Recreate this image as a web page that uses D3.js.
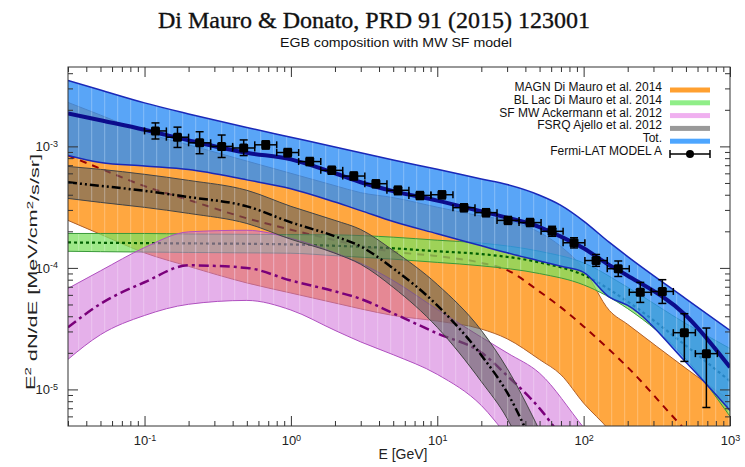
<!DOCTYPE html>
<html>
<head>
<meta charset="utf-8">
<script src="https://cdn.jsdelivr.net/npm/d3@7/dist/d3.min.js"></script>
<style>
  html, body { margin: 0; padding: 0; background: #fff; }
  svg { display: block; }
</style>
</head>
<body>
<svg id="chart" width="745" height="467"></svg>
<script>
// Energies in GeV, fluxes as E^2 dN/dE in MeV/cm^2/s/sr

const xDomain = [0.03, 1000];
const yDomain = [5e-6, 4.5e-3];
const xMajorTicks = [0.1, 1, 10, 100, 1000];
const yMajorTicks = [1e-5, 1e-4, 1e-3];

// MAGN (Di Mauro et al. 2014)
const magnEnergy = [0.03, 0.05, 0.1, 0.2, 0.5, 1, 2, 3, 5, 10, 20, 30, 50, 70, 100, 150, 200, 500, 1000];
const magnUpper  = [2.30e-3, 1.81e-3, 1.30e-3, 1.03e-3, 7.57e-4, 6.0e-4, 4.75e-4, 4.16e-4, 3.79e-4, 3.16e-4, 2.67e-4, 2.46e-4, 1.96e-4, 1.50e-4, 9.8e-5, 4.46e-5, 3.43e-5, 1.49e-5, 8.13e-6];
const magnMid    = [8.43e-4, 6.56e-4, 4.71e-4, 3.62e-4, 2.56e-4, 2.06e-4, 1.69e-4, 1.51e-4, 1.36e-4, 1.25e-4, 1.10e-4, 9.59e-5, 6.38e-5, 4.73e-5, 3.3e-5, 2.12e-5, 1.52e-5, 4.6e-6, 2.07e-6];
const magnLower  = [2.46e-4, 1.89e-4, 1.33e-4, 1.03e-4, 7.52e-5, 6.21e-5, 5.14e-5, 4.6e-5, 4.06e-5, 3.65e-5, 3.14e-5, 2.61e-5, 1.76e-5, 1.32e-5, 7.71e-6, 4.6e-6, 2.88e-6, 6e-7, 2e-7];

// BL Lac (Di Mauro et al. 2014)
const bllacEnergy = [0.03, 0.05, 0.1, 0.2, 0.5, 1, 2, 5, 10, 20, 50, 100, 200, 500, 1000];
const bllacUpper  = [1.92e-4, 1.92e-4, 1.92e-4, 1.90e-4, 1.89e-4, 1.88e-4, 1.87e-4, 1.79e-4, 1.69e-4, 1.60e-4, 1.37e-4, 1.10e-4, 6.92e-5, 3.48e-5, 2.17e-5];
const bllacMid    = [1.62e-4, 1.61e-4, 1.60e-4, 1.59e-4, 1.58e-4, 1.56e-4, 1.52e-4, 1.45e-4, 1.37e-4, 1.30e-4, 1.11e-4, 8.73e-5, 5.28e-5, 2.29e-5, 1.17e-5];
const bllacLower  = [1.37e-4, 1.36e-4, 1.35e-4, 1.34e-4, 1.33e-4, 1.32e-4, 1.26e-4, 1.18e-4, 1.11e-4, 1.04e-4, 8.98e-5, 7.25e-5, 4.62e-5, 1.78e-5, 6.0e-6];

// Star-forming MW (Ackermann et al. 2012)
const sfEnergy = [0.03, 0.05, 0.1, 0.2, 0.5, 1, 2, 3, 5, 10, 20, 30, 50, 100, 200];
const sfUpper  = [6.78e-5, 9.46e-5, 1.47e-4, 1.98e-4, 2.04e-4, 1.75e-4, 1.33e-4, 1.09e-4, 7.86e-5, 4.55e-5, 2.69e-5, 2.0e-5, 1.36e-5, 4.86e-6, 1.78e-6];
const sfMid    = [3.24e-5, 5.06e-5, 7.62e-5, 1.05e-4, 1.0e-4, 7.87e-5, 6.41e-5, 5.56e-5, 4.23e-5, 2.89e-5, 2.01e-5, 1.3e-5, 6.98e-6, 2.15e-6, 6e-7];
const sfLower  = [1.77e-5, 2.82e-5, 4.06e-5, 5.02e-5, 5.4e-5, 4.5e-5, 3.06e-5, 2.46e-5, 1.93e-5, 1.33e-5, 7.38e-6, 4.18e-6, 2.15e-6, 5e-7, 1.5e-7];

// FSRQ (Ajello et al. 2012)
const fsrqEnergy = [0.03, 0.05, 0.1, 0.2, 0.5, 1, 2, 3, 5, 10, 20, 30, 50];
const fsrqUpper  = [6.84e-4, 6.47e-4, 5.89e-4, 5.25e-4, 4.35e-4, 3.21e-4, 2.46e-4, 2.07e-4, 1.39e-4, 7.31e-5, 3.06e-5, 1.49e-5, 4.6e-6];
const fsrqMid    = [5.06e-4, 4.73e-4, 4.31e-4, 3.83e-4, 3.21e-4, 2.37e-4, 1.82e-4, 1.50e-4, 9.91e-5, 4.91e-5, 1.91e-5, 9.44e-6, 2.61e-6];
const fsrqLower  = [3.73e-4, 3.46e-4, 3.15e-4, 2.81e-4, 2.32e-4, 1.72e-4, 1.32e-4, 1.07e-4, 6.92e-5, 3.24e-5, 1.16e-5, 5.77e-6, 1.48e-6];

// Total
const totEnergy = [0.03, 0.05, 0.1, 0.2, 0.5, 1, 2, 3, 5, 10, 20, 30, 50, 70, 100, 150, 200, 500, 1000];
const totUpper  = [3.49e-3, 2.91e-3, 2.28e-3, 1.85e-3, 1.43e-3, 1.19e-3, 9.9e-4, 8.86e-4, 7.74e-4, 6.47e-4, 5.39e-4, 4.85e-4, 3.96e-4, 3.27e-4, 2.43e-4, 1.62e-4, 1.24e-4, 5.57e-5, 3.06e-5];
const totMid    = [1.87e-3, 1.64e-3, 1.37e-3, 1.12e-3, 8.85e-4, 7.82e-4, 6.01e-4, 5.07e-4, 4.28e-4, 3.58e-4, 2.92e-4, 2.59e-4, 2.17e-4, 1.81e-4, 1.45e-4, 1.05e-4, 8.63e-5, 4.06e-5, 1.52e-5];
const totLower  = [8.43e-4, 7.38e-4, 6.9e-4, 6.45e-4, 5.3e-4, 4.48e-4, 3.48e-4, 2.96e-4, 2.41e-4, 1.91e-4, 1.52e-4, 1.33e-4, 1.14e-4, 1.03e-4, 9.18e-5, 5.74e-5, 4.91e-5, 1.67e-5, 6.71e-6];

// Fermi-LAT EGB, foreground model A
const fermiBinEdges = [0.1, 0.141, 0.2, 0.283, 0.4, 0.566, 0.8, 1.13, 1.6, 2.26, 3.2, 4.53, 6.4, 9.05,
  12.8, 18.1, 25.6, 36.2, 51.2, 72.4, 102, 145, 205, 290, 410, 580, 820];
const fermiFlux = [1.34e-3, 1.19e-3, 1.07e-3, 1.0e-3, 9.7e-4, 1.03e-3, 8.9e-4, 7.5e-4, 6.35e-4, 5.7e-4,
  4.93e-4, 4.35e-4, 3.95e-4, 4.0e-4, 3.13e-4, 2.85e-4, 2.46e-4, 2.36e-4, 2.0e-4, 1.61e-4,
  1.15e-4, 9.85e-5, 6.3e-5, 6.4e-5, 2.93e-5, 1.97e-5];
const fermiHigh = [1.56e-3, 1.44e-3, 1.32e-3, 1.24e-3, 1.13e-3, 1.11e-3, 9.6e-4, 8.1e-4, 6.85e-4, 6.15e-4,
  5.3e-4, 4.7e-4, 4.25e-4, 4.3e-4, 3.37e-4, 3.07e-4, 2.65e-4, 2.55e-4, 2.2e-4, 1.77e-4,
  1.29e-4, 1.14e-4, 7.6e-5, 8.0e-5, 4.2e-5, 3.2e-5];
const fermiLow = [1.15e-3, 9.8e-4, 8.7e-4, 8.1e-4, 8.4e-4, 9.5e-4, 8.2e-4, 6.95e-4, 5.9e-4, 5.3e-4,
  4.57e-4, 4.0e-4, 3.65e-4, 3.7e-4, 2.9e-4, 2.64e-4, 2.28e-4, 2.19e-4, 1.82e-4, 1.46e-4,
  1.03e-4, 8.5e-5, 5.2e-5, 5.1e-5, 1.7e-5, 7.1e-6];

const legendLabels = ["MAGN Di Mauro et al. 2014", "BL Lac Di Mauro et al. 2014",
  "SF MW Ackermann et al. 2012", "FSRQ Ajello et al. 2012", "Tot.", "Fermi-LAT MODEL A"];

// ---------------------------------------------------------------------------
const svg = d3.select("#chart");
const X0 = 68, X1 = 730, Y0 = 67, Y1 = 426;
const x = d3.scaleLog().domain(xDomain).range([X0, X1]);
const y = d3.scaleLog().domain(yDomain).range([Y1, Y0]);
const SANS = "'Liberation Sans', Arial, Helvetica, sans-serif";

const defs = svg.append("defs");
defs.append("clipPath").attr("id", "plotClip")
  .append("rect").attr("x", X0).attr("y", Y0).attr("width", X1 - X0).attr("height", Y1 - Y0);
// faint vertical seams seen across the shaded bands
const seams = defs.append("pattern").attr("id", "seams")
  .attr("patternUnits", "userSpaceOnUse").attr("width", 13).attr("height", 10);
seams.append("rect").attr("x", 0).attr("y", 0).attr("width", 1.2).attr("height", 10)
  .attr("fill", "#fff").attr("fill-opacity", 0.22);

// titles
svg.append("text").attr("x", 374).attr("y", 28).attr("text-anchor", "middle")
  .attr("font-family", "'Liberation Serif', 'Times New Roman', serif").attr("font-size", 24)
  .attr("fill", "#111").attr("stroke", "#111").attr("stroke-width", 0.35)
  .text("Di Mauro & Donato, PRD 91 (2015) 123001");
svg.append("text").attr("x", 396).attr("y", 47).attr("text-anchor", "middle")
  .attr("font-family", SANS).attr("font-size", 13).attr("fill", "#111")
  .attr("textLength", 232).attr("lengthAdjust", "spacingAndGlyphs")
  .text("EGB composition with MW SF model");

const plot = svg.append("g").attr("clip-path", "url(#plotClip)");

function drawBand(E, lo, mid, hi, st) {
  const pts = E.map((e, i) => ({ e, lo: lo[i], mid: mid[i], hi: hi[i] }));
  const area = d3.area().x(d => x(d.e)).y0(d => y(d.lo)).y1(d => y(d.hi)).curve(d3.curveMonotoneX);
  const line = k => d3.line().x(d => x(d.e)).y(d => y(d[k])).curve(d3.curveMonotoneX)(pts);
  plot.append("path").attr("d", area(pts)).attr("fill", st.fill).attr("fill-opacity", st.opacity);
  plot.append("path").attr("d", area(pts)).attr("fill", "url(#seams)");
  ["lo", "hi"].forEach(k => plot.append("path").attr("d", line(k)).attr("fill", "none")
    .attr("stroke", st.edge).attr("stroke-width", st.edgeWidth));
  plot.append("path").attr("d", line("mid")).attr("fill", "none")
    .attr("stroke", st.line).attr("stroke-width", st.lineWidth)
    .attr("stroke-dasharray", st.dash || null);
}

drawBand(magnEnergy, magnLower, magnMid, magnUpper,
  { fill: "#ffa030", opacity: 0.92, edge: "#b0602a", edgeWidth: 1, line: "#9a0000", lineWidth: 2, dash: "7,6" });
drawBand(bllacEnergy, bllacLower, bllacMid, bllacUpper,
  { fill: "#7ee060", opacity: 0.75, edge: "#3a9a3a", edgeWidth: 1, line: "#006000", lineWidth: 2.2, dash: "3,3" });
drawBand(sfEnergy, sfLower, sfMid, sfUpper,
  { fill: "#d070d8", opacity: 0.55, edge: "#b050c0", edgeWidth: 1, line: "#7a007a", lineWidth: 2.5, dash: "10,4,3,4" });
drawBand(fsrqEnergy, fsrqLower, fsrqMid, fsrqUpper,
  { fill: "#606060", opacity: 0.6, edge: "#444", edgeWidth: 1, line: "#000", lineWidth: 2.5, dash: "9,3,2,3,2,3" });
drawBand(totEnergy, totLower, totMid, totUpper,
  { fill: "#2f8ff5", opacity: 0.8, edge: "#1a28b8", edgeWidth: 1.5, line: "#0c0c8c", lineWidth: 4 });

// Fermi-LAT points with error bars
const fermi = fermiFlux.map((v, i) => ({
  lo: fermiBinEdges[i], hi: fermiBinEdges[i + 1],
  e: Math.sqrt(fermiBinEdges[i] * fermiBinEdges[i + 1]),
  v, vHi: fermiHigh[i], vLo: fermiLow[i]
}));
const pg = svg.append("g").attr("stroke", "#000").attr("stroke-width", 1.5);
fermi.forEach(d => {
  const cx = x(d.e), cy = y(d.v);
  const xl = x(d.lo), xr = x(d.hi), yt = y(d.vHi), yb = y(d.vLo);
  pg.append("line").attr("x1", xl).attr("x2", xr).attr("y1", cy).attr("y2", cy);
  pg.append("line").attr("x1", xl).attr("x2", xl).attr("y1", cy - 3.5).attr("y2", cy + 3.5);
  pg.append("line").attr("x1", xr).attr("x2", xr).attr("y1", cy - 3.5).attr("y2", cy + 3.5);
  pg.append("line").attr("x1", cx).attr("x2", cx).attr("y1", yt).attr("y2", yb);
  pg.append("line").attr("x1", cx - 4).attr("x2", cx + 4).attr("y1", yt).attr("y2", yt);
  pg.append("line").attr("x1", cx - 4).attr("x2", cx + 4).attr("y1", yb).attr("y2", yb);
  pg.append("rect").attr("x", cx - 4.5).attr("y", cy - 4.5).attr("width", 9).attr("height", 9)
    .attr("rx", 1.5).attr("fill", "#000").attr("stroke", "none");
});

// ---------------------------------------------------------------------------
// axes: ticks on all four sides, pointing inward
function minorTicks(domain) {
  const out = [];
  for (let p = Math.floor(Math.log10(domain[0])); p <= Math.ceil(Math.log10(domain[1])); p++) {
    for (let m = 2; m <= 9; m++) {
      const v = m * Math.pow(10, p);
      if (v >= domain[0] && v <= domain[1]) out.push(v);
    }
  }
  return out;
}
const xMinor = minorTicks(xDomain), yMinor = minorTicks(yDomain);

function powLabel(sel) {
  sel.each(function (d) {
    const t = d3.select(this);
    t.text(null);
    t.append("tspan").text("10");
    t.append("tspan").attr("dy", "-0.5em").attr("font-size", "9px")
      .text(String(Math.round(Math.log10(d))));
  });
}
function styleAxis(g) {
  g.select(".domain").remove();
  g.attr("color", "#333").attr("font-family", SANS).attr("font-size", 13);
  g.selectAll(".tick text").attr("fill", "#222");
}

const gB = svg.append("g").attr("transform", `translate(0,${Y1})`)
  .call(d3.axisBottom(x).tickValues(xMajorTicks).tickSizeInner(-10).tickSizeOuter(0).tickPadding(10));
styleAxis(gB); gB.selectAll(".tick text").call(powLabel);
svg.append("g").attr("transform", `translate(0,${Y1})`)
  .call(d3.axisBottom(x).tickValues(xMinor).tickSizeInner(-5).tickSizeOuter(0).tickFormat(() => ""))
  .call(styleAxis);
svg.append("g").attr("transform", `translate(0,${Y0})`)
  .call(d3.axisTop(x).tickValues(xMajorTicks).tickSizeInner(-10).tickSizeOuter(0).tickFormat(() => ""))
  .call(styleAxis);
svg.append("g").attr("transform", `translate(0,${Y0})`)
  .call(d3.axisTop(x).tickValues(xMinor).tickSizeInner(-5).tickSizeOuter(0).tickFormat(() => ""))
  .call(styleAxis);

const gL = svg.append("g").attr("transform", `translate(${X0},0)`)
  .call(d3.axisLeft(y).tickValues(yMajorTicks).tickSizeInner(-10).tickSizeOuter(0).tickPadding(10));
styleAxis(gL); gL.selectAll(".tick text").call(powLabel);
svg.append("g").attr("transform", `translate(${X0},0)`)
  .call(d3.axisLeft(y).tickValues(yMinor).tickSizeInner(-5).tickSizeOuter(0).tickFormat(() => ""))
  .call(styleAxis);
svg.append("g").attr("transform", `translate(${X1},0)`)
  .call(d3.axisRight(y).tickValues(yMajorTicks).tickSizeInner(-10).tickSizeOuter(0).tickFormat(() => ""))
  .call(styleAxis);
svg.append("g").attr("transform", `translate(${X1},0)`)
  .call(d3.axisRight(y).tickValues(yMinor).tickSizeInner(-5).tickSizeOuter(0).tickFormat(() => ""))
  .call(styleAxis);

svg.append("rect").attr("x", X0).attr("y", Y0).attr("width", X1 - X0).attr("height", Y1 - Y0)
  .attr("fill", "none").attr("stroke", "#333").attr("stroke-width", 1);

// axis titles
svg.append("text").attr("x", (X0 + X1) / 2 + 4).attr("y", 459).attr("text-anchor", "middle")
  .attr("font-family", SANS).attr("font-size", 14).attr("fill", "#222").text("E [GeV]");
const yt = svg.append("text").attr("transform", `translate(35,272) rotate(-90)`)
  .attr("text-anchor", "middle").attr("font-family", SANS).attr("font-size", 13).attr("fill", "#222")
  .attr("textLength", 236).attr("lengthAdjust", "spacingAndGlyphs");
yt.append("tspan").text("E");
yt.append("tspan").attr("dy", "-0.45em").attr("font-size", "9px").text("2");
yt.append("tspan").attr("dy", "0.45em").text(" dN/dE [MeV/cm");
yt.append("tspan").attr("dy", "-0.45em").attr("font-size", "9px").text("2");
yt.append("tspan").attr("dy", "0.45em").text("/s/sr]");

// legend
const legendSwatch = ["#ffa030", "#90ee88", "#f0b0f0", "#999999", "#4da6ff"];
const lg = svg.append("g").attr("font-family", SANS).attr("font-size", 12);
legendLabels.forEach((label, i) => {
  const cy = 90 + i * 12.8;
  lg.append("text").attr("x", 662).attr("y", cy + 1).attr("text-anchor", "end")
    .attr("fill", "#111").text(label);
  if (i < legendSwatch.length) {
    lg.append("rect").attr("x", 670).attr("y", cy - 2.5).attr("width", 40).attr("height", 5)
      .attr("fill", legendSwatch[i]);
  } else {
    const s = lg.append("g").attr("stroke", "#000").attr("stroke-width", 1.5);
    s.append("line").attr("x1", 670).attr("x2", 710).attr("y1", cy).attr("y2", cy);
    s.append("line").attr("x1", 670).attr("x2", 670).attr("y1", cy - 4).attr("y2", cy + 4);
    s.append("line").attr("x1", 710).attr("x2", 710).attr("y1", cy - 4).attr("y2", cy + 4);
    s.append("circle").attr("cx", 690).attr("cy", cy).attr("r", 4).attr("fill", "#000").attr("stroke", "none");
  }
});
</script>
</body>
</html>
